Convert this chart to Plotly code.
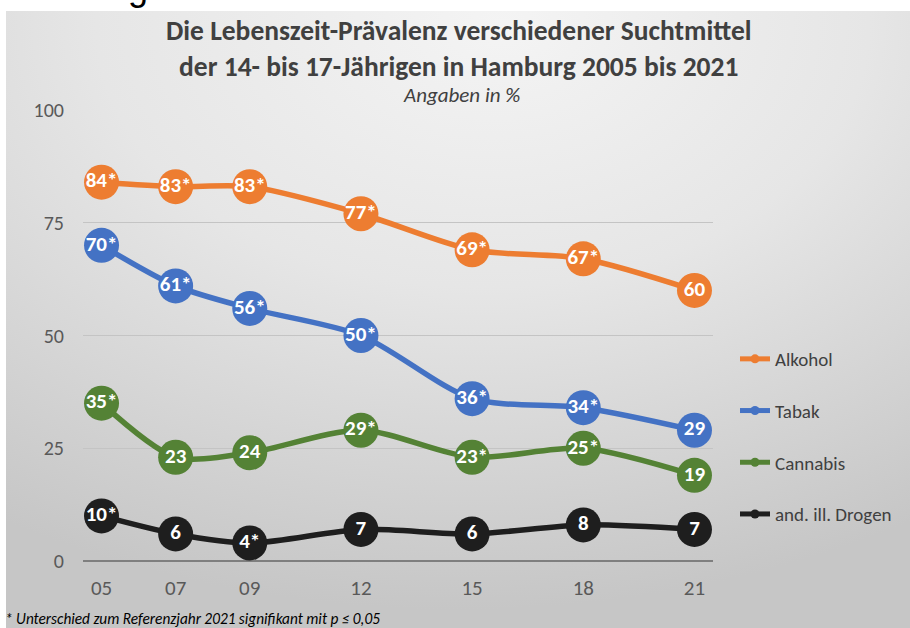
import base64
import plotly.graph_objects as go

# ---- data ----
years = [2005, 2007, 2009, 2012, 2015, 2018, 2021]
tick_labels = ["05", "07", "09", "12", "15", "18", "21"]
alkohol = [84, 83, 83, 77, 69, 67, 60]
tabak = [70, 61, 56, 50, 36, 34, 29]
cannabis = [35, 23, 24, 29, 23, 25, 19]
drogen = [10, 6, 4, 7, 6, 8, 7]
# significance flags (True = "*")
sig_alkohol = [True, True, True, True, True, True, False]
sig_tabak = [True, True, True, True, True, True, False]
sig_cannabis = [True, False, False, True, True, True, False]
sig_drogen = [True, False, True, False, False, False, False]

series = [
    ("Alkohol", alkohol, sig_alkohol, "#ED7D31"),
    ("Tabak", tabak, sig_tabak, "#4472C4"),
    ("Cannabis", cannabis, sig_cannabis, "#548235"),
    ("and. ill. Drogen", drogen, sig_drogen, "#1E1E1E"),
]

FONT = "Carlito, Lato, sans-serif"
TXT = "#404040"

fig = go.Figure()
for name, vals, sig, col in series:
    labels = [f"{v}*" if s else f"{v}" for v, s in zip(vals, sig)]
    fig.add_trace(go.Scatter(
        x=years, y=vals, mode="lines+markers+text", name=name,
        text=labels, textposition="middle center",
        textfont=dict(family=FONT, size=21, color="white", weight="bold"),
        line=dict(color=col, width=5.5, shape="spline", smoothing=0.8),
        marker=dict(size=35, color=col),
        showlegend=False, cliponaxis=False,
    ))
for i, (name, vals, sig, col) in enumerate(series):
    fig.add_trace(go.Scatter(
        x=[None], y=[None], mode="lines+markers", name=name,
        line=dict(color=col, width=5), marker=dict(size=9, color=col),
        legendgroup=f"g{i}", showlegend=True,
    ))

# background gradient (panel)
svg = """<svg xmlns='http://www.w3.org/2000/svg' width='904' height='617' viewBox='0 0 904 617' preserveAspectRatio='none'>
<defs><radialGradient id='g' cx='0.5' cy='0.02' r='0.95' fx='0.55' fy='0.02'>
<stop offset='0' stop-color='#f4f4f4'/><stop offset='0.45' stop-color='#e6e6e6'/><stop offset='1' stop-color='#c6c6c6'/>
</radialGradient></defs><rect width='904' height='617' fill='url(#g)'/></svg>"""
src = "data:image/svg+xml;base64," + base64.b64encode(svg.encode()).decode()

L, R, T, B = 83, 713, 110, 561
W, H = R - L, B - T
def px(x):
    return (x - L) / W
def py(y):
    return (B - y) / H

fig.add_layout_image(dict(
    source=src, xref="paper", yref="paper", x=px(6), y=py(11),
    sizex=(910 - 6) / W, sizey=(628 - 11) / H, xanchor="left", yanchor="top",
    sizing="stretch", layer="below", opacity=1,
))

fig.update_layout(
    width=910, height=628,
    margin=dict(l=L, r=910 - R, t=T, b=628 - B),
    paper_bgcolor="white", plot_bgcolor="rgba(0,0,0,0)",
    font=dict(family=FONT, color=TXT),
    xaxis=dict(range=[2004.5, 2021.5], tickvals=years, ticktext=tick_labels,
               showgrid=False, zeroline=False, showline=False,
               tickfont=dict(size=21, color="#595959"), ticks="",
               ticklabelstandoff=12),
    yaxis=dict(range=[0, 100], tickvals=[0, 25, 50, 75, 100],
               showgrid=True, gridcolor="#c4c4c4", gridwidth=1,
               zeroline=True, zerolinecolor="#7f7f7f", zerolinewidth=2,
               showline=False, tickfont=dict(size=20, color="#595959"),
               ticks="", ticklabelstandoff=18),
    legend=dict(x=px(735), y=py(340), xanchor="left", yanchor="top",
                bgcolor="rgba(0,0,0,0)", font=dict(size=19, color=TXT),
                tracegroupgap=24, itemwidth=30),
    showlegend=True,
)

fig.add_annotation(text="<b>Die Lebenszeit-Prävalenz verschiedener Suchtmittel<br>der 14- bis 17-Jährigen in Hamburg 2005 bis 2021</b>",
                   xref="paper", yref="paper", x=px(459), y=py(48), xanchor="center", yanchor="middle",
                   showarrow=False, font=dict(size=27.5, color=TXT, family=FONT))
fig.add_annotation(text="<i>Angaben in %</i>", xref="paper", yref="paper", x=px(461), y=py(95),
                   xanchor="center", yanchor="middle", showarrow=False,
                   font=dict(size=21, color=TXT, family=FONT))
fig.add_annotation(text="<i>* Unterschied zum Referenzjahr 2021 signifikant mit p ≤ 0,05</i>",
                   xref="paper", yref="paper", x=px(3), y=py(618), xanchor="left", yanchor="middle",
                   showarrow=False, font=dict(size=15.3, color="#000000", family=FONT))
fig.add_annotation(text="g", xref="paper", yref="paper", x=px(138), y=py(-13),
                   xanchor="center", yanchor="middle", showarrow=False,
                   font=dict(size=36, color="#000000", family="Liberation Sans"))

fig.write_html("out.html", config={"displayModeBar": False},
               post_script="document.body.style.margin='0';document.body.style.padding='0';")
